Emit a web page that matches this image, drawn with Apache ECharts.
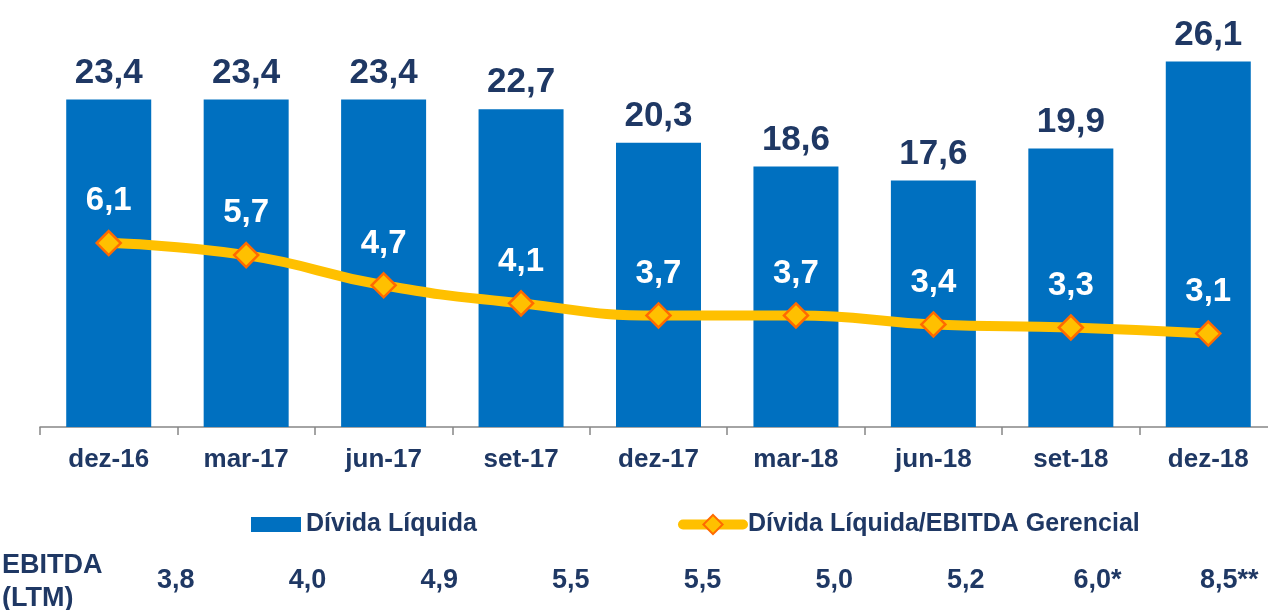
<!DOCTYPE html>
<html>
<head>
<meta charset="utf-8">
<script src="https://cdn.jsdelivr.net/npm/echarts@6/dist/echarts.min.js"></script>
<style>
html,body{margin:0;padding:0;background:#fff;}
#chart{width:1268px;height:610px;}
</style>
</head>
<body>
<div id="chart"></div>
<script>
const categories = ['dez-16','mar-17','jun-17','set-17','dez-17','mar-18','jun-18','set-18','dez-18'];
const dividaLiquida = [23.4, 23.4, 23.4, 22.7, 20.3, 18.6, 17.6, 19.9, 26.1];
const dividaEbitda = [6.1, 5.7, 4.7, 4.1, 3.7, 3.7, 3.4, 3.3, 3.1];
const ebitdaLTM = ['3,8','4,0','4,9','5,5','5,5','5,0','5,2','6,0*','8,5**'];
const seriesNames = ['Dívida Líquida', 'Dívida Líquida/EBITDA Gerencial'];
const rowTitle = 'EBITDA\n(LTM)';

const FONT = '"Liberation Sans", Arial, sans-serif';
const NAVY = '#1F3864';
const fmt = v => v.toFixed(1).replace('.', ',');

const chart = echarts.init(document.getElementById('chart'));
chart.setOption({
  animation: false,
  textStyle: { fontFamily: FONT },
  grid: [
    { left: 40, width: 1237, top: 35, bottom: 183, outerBoundsMode: 'none', containLabel: false },
    { left: 110, width: 1185, top: 556, height: 4, outerBoundsMode: 'none', containLabel: false }
  ],
  legend: [
    {
      data: [{ name: seriesNames[0], icon: 'rect' }],
      left: 246, top: 507,
      itemWidth: 50, itemHeight: 15,
      itemGap: 0,
      textStyle: { fontSize: 25, fontWeight: 'bold', color: NAVY, fontFamily: FONT }
    },
    {
      data: [seriesNames[1]],
      left: 673, top: 507,
      itemWidth: 60, itemHeight: 24,
      lineStyle: { width: 10, cap: 'round' },
      textStyle: { fontSize: 25, fontWeight: 'bold', color: NAVY, fontFamily: FONT }
    }
  ],
  xAxis: [
    {
      type: 'category', data: categories, gridIndex: 0,
      axisLine: { lineStyle: { color: '#868686', width: 1.5 } },
      axisTick: { show: true, length: 8, lineStyle: { color: '#868686', width: 1.5 } },
      axisLabel: { fontSize: 26, fontWeight: 'bold', color: NAVY, margin: 20, fontFamily: FONT }
    },
    {
      type: 'category', data: ebitdaLTM, gridIndex: 1,
      axisLine: { show: false }, axisTick: { show: false },
      axisLabel: { fontSize: 27, fontWeight: 'bold', color: NAVY, margin: 7, fontFamily: FONT, interval: 0 }
    }
  ],
  yAxis: [
    { type: 'value', min: 0, max: 28, show: false, gridIndex: 0 },
    { type: 'value', min: 0, max: 13, show: false, gridIndex: 0 },
    { type: 'value', min: 0, max: 1, show: false, gridIndex: 1 }
  ],
  graphic: [
    {
      type: 'text', left: 2, top: 549,
      style: { text: rowTitle, fontSize: 27, fontWeight: 'bold', fill: NAVY, fontFamily: FONT, lineHeight: 33 }
    }
  ],
  series: [
    {
      name: seriesNames[0], type: 'bar', data: dividaLiquida,
      xAxisIndex: 0, yAxisIndex: 0,
      barWidth: 85,
      itemStyle: { color: '#0070C0' },
      label: {
        show: true, position: 'top', distance: 9,
        formatter: p => fmt(p.value),
        fontSize: 35, fontWeight: 'bold', color: NAVY, fontFamily: FONT
      }
    },
    {
      name: seriesNames[1], type: 'line', data: dividaEbitda,
      xAxisIndex: 0, yAxisIndex: 1,
      smooth: true,
      symbol: 'diamond', symbolSize: 24,
      lineStyle: { color: '#FFC000', width: 10 },
      itemStyle: { color: '#FFC000', borderColor: '#FF6A00', borderWidth: 2.5 },
      label: {
        show: true, position: 'top', distance: 12,
        formatter: p => fmt(p.value),
        fontSize: 33, fontWeight: 'bold', color: '#FFFFFF', fontFamily: FONT
      },
      z: 3
    }
  ]
});
</script>
</body>
</html>
